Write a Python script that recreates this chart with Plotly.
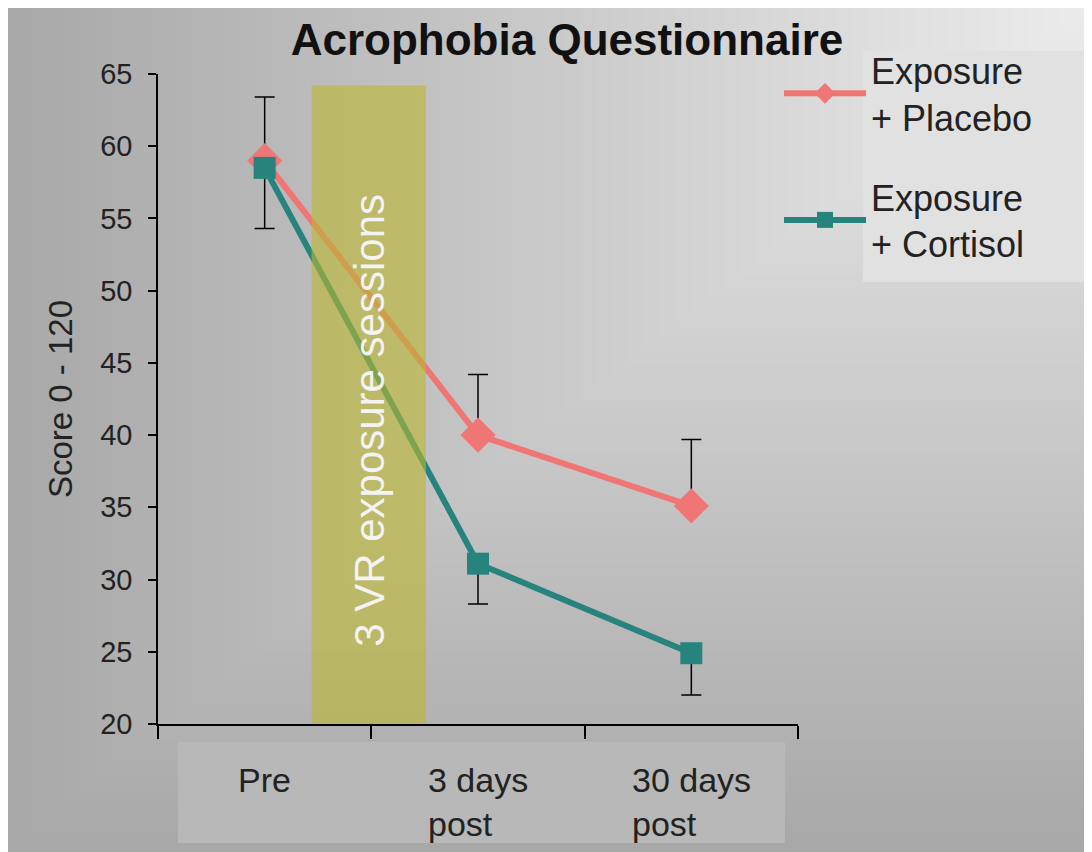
import base64, struct, zlib
import numpy as np
import plotly.graph_objects as go

# ---------------- data ----------------
categories = ["Pre", "3 days post", "30 days post"]
tick_text = ["Pre", "3 days<br>post", "30 days<br>post"]
placebo = [59.0, 40.0, 35.1]
placebo_err_up = [4.4, 4.2, 4.6]
cortisol = [58.5, 31.1, 24.9]
cortisol_err_down = [4.2, 2.8, 2.9]
series_names = ["Exposure<br>+ Placebo", "Exposure<br>+ Cortisol"]
y_ticks = [20, 25, 30, 35, 40, 45, 50, 55, 60, 65]

# ---------------- layout constants ----------------
OFF = 8                      # page body margin
REF_W, REF_H = 1092, 852
W, H = REF_W - OFF, REF_H - OFF
ML, MT = 158 - OFF, 74 - OFF
PW, PH = 640, 650
MR, MB = W - ML - PW, H - MT - PH


def px_x(px):                # reference-pixel -> paper x
    return (px - OFF - ML) / PW


def px_y(py):                # reference-pixel -> paper y
    return (MT + PH - (py - OFF)) / PH


# background gradient image (lighter towards top-right)
def gradient_png(w, h):
    xs = (np.arange(w)[None, :] + OFF) / REF_W
    ys = (np.arange(h)[:, None] + OFF) / REF_H
    d = np.maximum(1 - xs, ys)
    g = np.clip(236 - 68 * d, 0, 255).astype(np.uint8)
    raw = b"".join(b"\x00" + row.tobytes() for row in g)

    def chunk(t, data):
        c = struct.pack(">I", len(data)) + t + data
        return c + struct.pack(">I", zlib.crc32(t + data) & 0xFFFFFFFF)

    png = b"\x89PNG\r\n\x1a\n"
    png += chunk(b"IHDR", struct.pack(">IIBBBBB", w, h, 8, 0, 0, 0, 0))
    png += chunk(b"IDAT", zlib.compress(raw, 9))
    png += chunk(b"IEND", b"")
    return "data:image/png;base64," + base64.b64encode(png).decode()


FONT = "Liberation Sans, Arial, sans-serif"
PINK = "#f07575"
TEAL = "#27837e"

fig = go.Figure()

fig.add_trace(go.Scatter(
    x=categories, y=placebo, name=series_names[0], legendgroup="a",
    mode="lines+markers",
    line=dict(color=PINK, width=6),
    marker=dict(symbol="diamond", size=27, color=PINK),
    error_y=dict(type="data", symmetric=False, array=placebo_err_up,
                 arrayminus=[0] * len(placebo), color="#000000",
                 thickness=1.5, width=10),
))
fig.add_trace(go.Scatter(
    x=categories, y=cortisol, name=series_names[1], legendgroup="b",
    mode="lines+markers",
    line=dict(color=TEAL, width=6),
    marker=dict(symbol="square", size=22, color=TEAL),
    error_y=dict(type="data", symmetric=False, array=[0] * len(cortisol),
                 arrayminus=cortisol_err_down, color="#000000",
                 thickness=1.5, width=10),
))

shapes = [
    # legend text box
    dict(type="rect", xref="paper", yref="paper", layer="below",
         x0=px_x(863), x1=px_x(1092), y0=px_y(282), y1=px_y(51),
         fillcolor="#e1e1e1", line=dict(width=0)),
    # x label box
    dict(type="rect", xref="paper", yref="paper", layer="below",
         x0=px_x(178), x1=px_x(785), y0=px_y(843), y1=px_y(742),
         fillcolor="#b8b8b8", line=dict(width=0)),
    # VR sessions band
    dict(type="rect", xref="x", yref="y", layer="above",
         x0=0.22, x1=0.756, y0=20, y1=64.2,
         fillcolor="rgb(187,184,49)", opacity=0.6, line=dict(width=0)),
]

annotations = [
    dict(text="3 VR exposure sessions", xref="x", yref="y", x=0.49, y=41,
         textangle=-90, showarrow=False, xanchor="center", yanchor="middle",
         font=dict(family=FONT, size=42, color="#f3f3f3")),
]
for c, t in zip(categories, tick_text):
    annotations.append(dict(
        text=t, xref="x", yref="paper", x=c, y=px_y(759),
        xanchor="center", yanchor="top", align="left", showarrow=False,
        font=dict(family=FONT, size=34, color="#222222")))

fig.update_layout(
    width=W, height=H,
    margin=dict(l=ML, r=MR, t=MT, b=MB, autoexpand=False),
    paper_bgcolor="#ffffff", plot_bgcolor="rgba(0,0,0,0)",
    images=[dict(source=gradient_png(W, H), xref="paper", yref="paper",
                 x=-ML / PW, y=1 + MT / PH, sizex=W / PW, sizey=H / PH,
                 xanchor="left", yanchor="top", sizing="stretch", layer="below")],
    title=dict(text="<b>Acrophobia Questionnaire</b>",
               x=(567 - OFF) / W, xanchor="center",
               y=1 - (40 - OFF) / H, yanchor="middle",
               font=dict(family=FONT, size=44, color="#111111")),
    xaxis=dict(type="category", categoryorder="array", categoryarray=categories,
               range=[-0.5, 2.5], showticklabels=False, tickson="boundaries",
               ticks="outside", ticklen=13, tickwidth=1.5, tickcolor="#000000",
               showline=True, linecolor="#000000", linewidth=1.5,
               showgrid=False, zeroline=False),
    yaxis=dict(range=[20, 65], tickvals=y_ticks, ticks="outside", ticklen=8,
               tickwidth=1.5, tickcolor="#000000", showline=True,
               linecolor="#000000", linewidth=1.5, showgrid=False,
               zeroline=False, ticklabelstandoff=10,
               tickfont=dict(family=FONT, size=29, color="#222222"),
               title=dict(text="Score 0 - 120", standoff=18,
                          font=dict(family=FONT, size=33, color="#222222"))),
    legend=dict(x=px_x(779), y=px_y(40), xanchor="left", yanchor="top",
                bgcolor="rgba(0,0,0,0)", borderwidth=0, itemwidth=82,
                tracegroupgap=30, valign="middle",
                font=dict(family=FONT, size=36, color="#222222")),
    shapes=shapes, annotations=annotations, showlegend=True,
)

fig.write_html("out.html")
